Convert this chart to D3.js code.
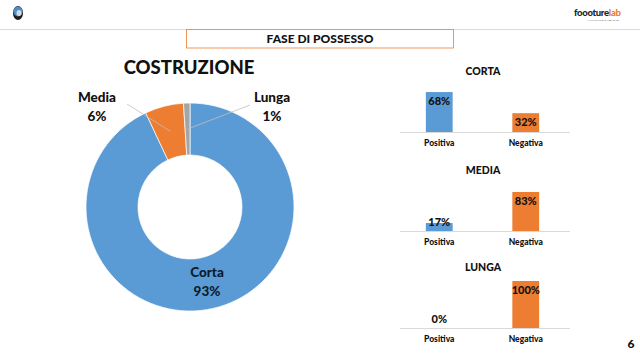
<!DOCTYPE html>
<html><head><meta charset="utf-8">
<script src="https://cdn.jsdelivr.net/npm/d3@7"></script>
<style>body{margin:0;background:#fff}svg{display:block}text{font-family:Lato,"Open Sans",sans-serif}</style>
</head><body>
<svg id="c" width="640" height="360"></svg>
<script>
// Donut data
const donutCats = ["Corta", "Media", "Lunga"];
const donutVals = [93, 6, 1];
const donutColors = ["#5B9BD5", "#ED7D31", "#A5A5A5"];
// Bar panels
const panelTitles = ["CORTA", "MEDIA", "LUNGA"];
const barCats = ["Positiva", "Negativa"];
const positiva = [68, 17, 0];
const negativa = [32, 83, 100];
const panelMax = [80, 100, 100];
const barColors = ["#5B9BD5", "#ED7D31"];

const svg = d3.select("#c");

// Header
svg.append("line").attr("x1", 0).attr("x2", 640).attr("y1", 29.5).attr("y2", 29.5)
  .attr("stroke", "#f1d6bd").attr("stroke-width", 1.2);
svg.append("rect").attr("x", 186.5).attr("y", 29.5).attr("width", 267).attr("height", 18.5)
  .attr("fill", "#fff").attr("stroke", "#ED7D31").attr("stroke-width", 0.8);
svg.append("text").attr("x", 320).attr("y", 42.5).attr("text-anchor", "middle")
  .attr("font-size", 12).attr("font-weight", 900).attr("fill", "#111").text("FASE DI POSSESSO");
// logo left
const lg = svg.append("g").attr("transform", "translate(18,13)");
lg.append("ellipse").attr("rx", 5).attr("ry", 7).attr("fill", "#1d1d1d");
lg.append("ellipse").attr("cy", -1.5).attr("rx", 4.5).attr("ry", 5).attr("fill", "#4a8ed0");
lg.append("ellipse").attr("cx", 1).attr("cy", 0).attr("rx", 2.5).attr("ry", 3).attr("fill", "#d8d8d8");
// logo right
const rt = svg.append("text").attr("x", 574).attr("y", 16).attr("font-size", 9.5).attr("font-weight", 900)
  .attr("letter-spacing", -0.3);
rt.append("tspan").attr("fill", "#222").text("foooture");
rt.append("tspan").attr("fill", "#ED7D31").text("lab");
svg.append("text").attr("x", 603).attr("y", 21).attr("font-size", 2.5).attr("fill", "#666")
  .attr("text-anchor", "middle").text("ANALYSING DATA BEYOND");

// Donut
const cx = 190, cy = 207, R = 104, r0 = 52;
svg.append("text").attr("x", 189).attr("y", 74).attr("text-anchor", "middle")
  .attr("font-size", 18.5).attr("font-weight", 900).attr("fill", "#111").text("COSTRUZIONE");
const pie = d3.pie().sort(null).value(d => d)(donutVals);
const arc = d3.arc().innerRadius(r0).outerRadius(R);
const mid = d3.arc().innerRadius(78).outerRadius(78);
const dg = svg.append("g").attr("transform", `translate(${cx},${cy})`);
dg.selectAll("path").data(pie).join("path").attr("d", arc)
  .attr("fill", (d, i) => donutColors[i]).attr("stroke", "#fff").attr("stroke-width", 0.7);
// labels
const labelPos = [[207, 277, null], [97, 102, [127, 104]], [272, 102, [250, 105]]];
pie.forEach((d, i) => {
  const [lx, ly, lead] = labelPos[i];
  if (lead) {
    const c = mid.centroid(d);
    svg.append("line").attr("x1", lead[0]).attr("y1", lead[1])
      .attr("x2", cx + c[0]).attr("y2", cy + c[1])
      .attr("stroke", "#bfbfbf").attr("stroke-width", 0.8);
  }
  const t = svg.append("text").attr("text-anchor", "middle").attr("font-size", 13.5)
    .attr("font-weight", 900).attr("fill", i === 0 ? "#0d1b2e" : "#111");
  t.append("tspan").attr("x", lx).attr("y", ly).text(donutCats[i]);
  t.append("tspan").attr("x", lx).attr("y", ly + 18.5).text(donutVals[i] + "%");
});

// Bar panels
const baselines = [132, 231, 328];
const x = d3.scaleBand().domain(barCats).range([396, 569]).paddingInner(0.69).paddingOuter(0.345);
panelTitles.forEach((title, p) => {
  const base = baselines[p];
  const y = d3.scaleLinear().domain([0, panelMax[p]]).range([base, base - 47]);
  const g = svg.append("g");
  g.append("text").attr("x", 483).attr("y", base - 57).attr("text-anchor", "middle")
    .attr("font-size", 10.5).attr("font-weight", 900).attr("fill", "#111").text(title);
  const vals = [positiva[p], negativa[p]];
  g.selectAll("rect").data(vals).join("rect")
    .attr("x", (d, i) => x(barCats[i])).attr("width", x.bandwidth())
    .attr("y", d => y(d)).attr("height", d => base - y(d))
    .attr("fill", (d, i) => barColors[i]);
  g.append("line").attr("x1", 400).attr("x2", 570).attr("y1", base + 0.5).attr("y2", base + 0.5)
    .attr("stroke", "#d9d9d9").attr("stroke-width", 1);
  g.selectAll("text.v").data(vals).join("text").attr("class", "v")
    .attr("x", (d, i) => x(barCats[i]) + x.bandwidth() / 2)
    .attr("y", d => Math.min(y(d) + 9, base - 9) + 4)
    .attr("text-anchor", "middle").attr("font-size", 11).attr("font-weight", 900)
    .attr("fill", "#111").text(d => d + "%");
  g.selectAll("text.c").data(barCats).join("text").attr("class", "c")
    .attr("x", d => x(d) + x.bandwidth() / 2).attr("y", base + 14)
    .attr("text-anchor", "middle").attr("font-size", 8.5).attr("font-weight", 900)
    .attr("fill", "#111").text(d => d);
});

// page number
svg.append("text").attr("x", 631).attr("y", 348).attr("text-anchor", "middle")
  .attr("font-size", 12).attr("font-weight", 900).attr("fill", "#111").text("6");
</script>
</body></html>
